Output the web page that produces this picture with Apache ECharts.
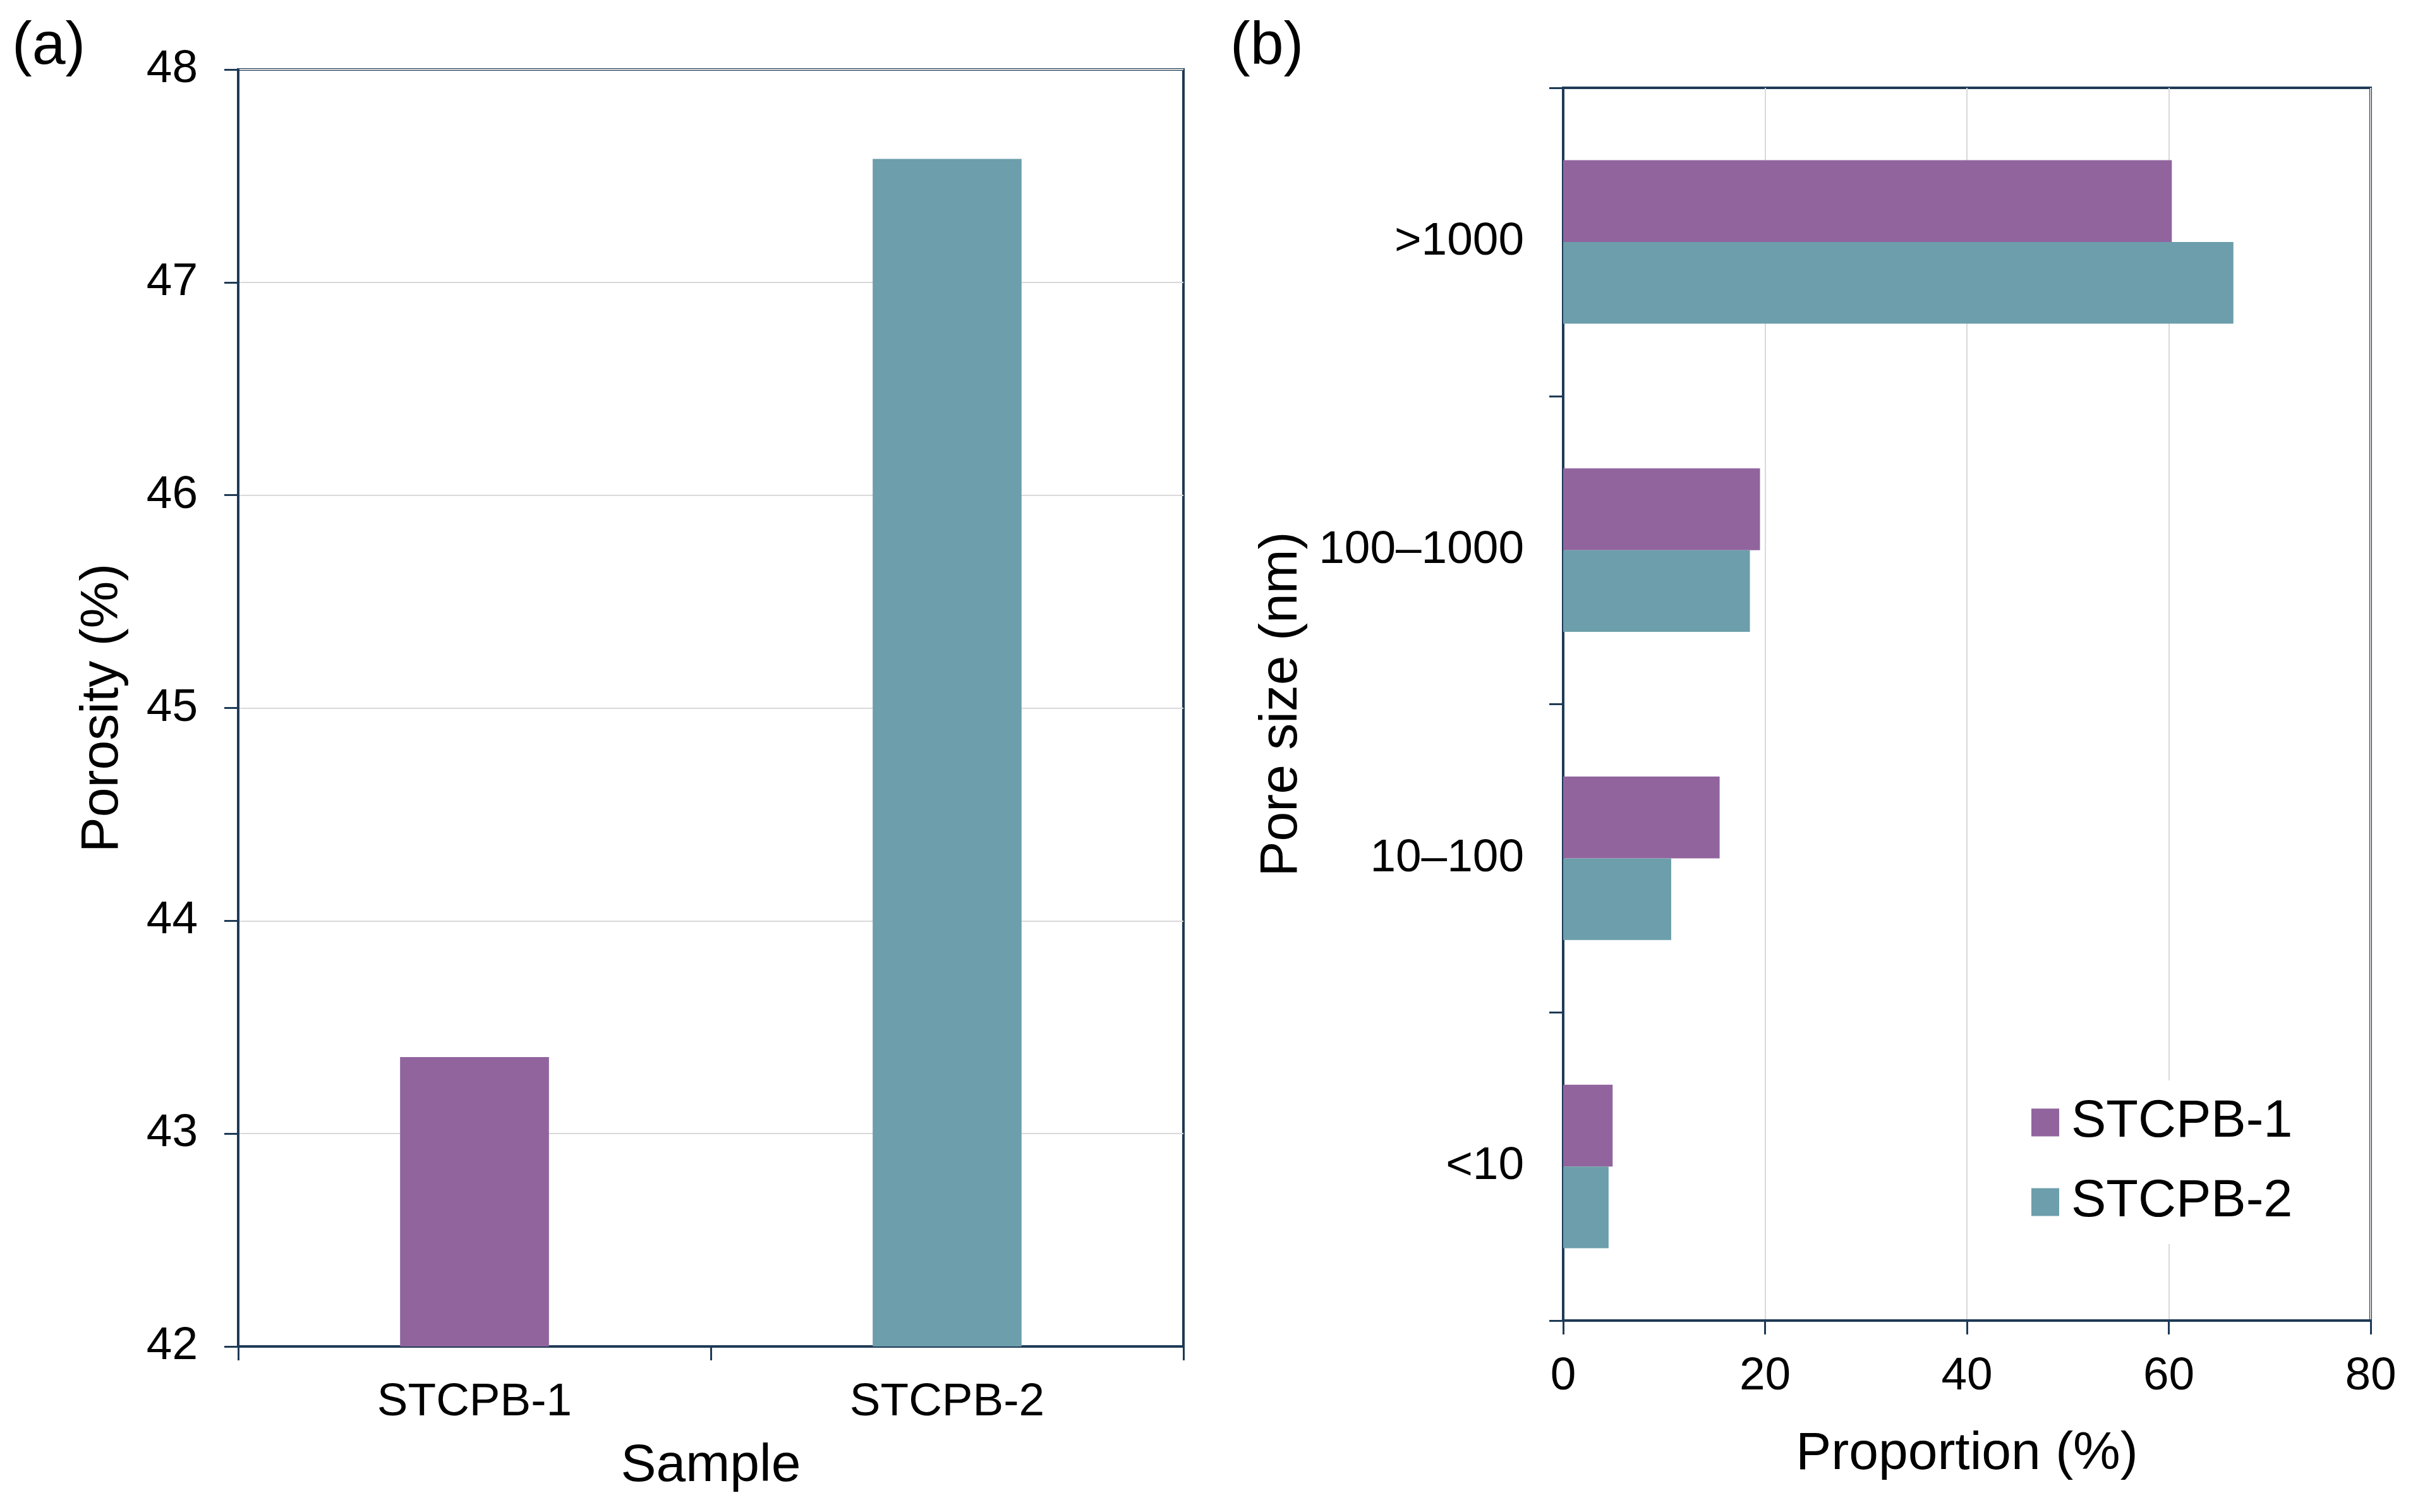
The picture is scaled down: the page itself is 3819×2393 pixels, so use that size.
<!doctype html>
<html>
<head>
<meta charset="utf-8">
<title>Porosity and pore size</title>
<script src="https://cdn.jsdelivr.net/npm/echarts@6/dist/echarts.min.js"></script>
<style type="text/css">
	html, body {
		margin: 0;
		padding: 0;
		background: #fff;
	}
	#chart {
		width: 3819px;
		height: 2393px;
	}
</style>
</head>
<body>
<div id="chart"></div>
<script type="text/javascript">
	// panel (a): porosity per sample
	var sampleNames = ['STCPB-1', 'STCPB-2'];
	var porosity = [43.36, 47.58];

	// panel (b): pore size distribution, listed top to bottom
	var poreSizes = ['>1000', '100–1000', '10–100', '<10'];
	var stcpb1 = [60.3, 19.5, 15.5, 4.9];
	var stcpb2 = [66.4, 18.5, 10.7, 4.5];

	var purple = '#91649e';
	var teal = '#6c9eab';
	var axisColor = '#1e3a56';
	var gridColor = '#d9d9d9';
	var font = "'Liberation Sans', Arial, sans-serif";

	var axisLine = { show: true, lineStyle: { color: axisColor, width: 4 } };
	var axisTick = { show: true, inside: false, length: 22, lineStyle: { color: axisColor, width: 3 } };
	var tickLabel = { color: '#000', fontSize: 73, fontFamily: font };
	var nameStyle = { color: '#000', fontSize: 84, fontFamily: font };

	var myChart = echarts.init(document.getElementById('chart'));
	var option = {
		backgroundColor: '#fff',
		animation: false,
		title: [
			{ text: '(a)', left: 14, top: 22, textStyle: { fontSize: 95, fontWeight: 'normal', fontFamily: font, color: '#000' } },
			{ text: '(b)', left: 1942, top: 22, textStyle: { fontSize: 95, fontWeight: 'normal', fontFamily: font, color: '#000' } }
		],
		grid: [
			{ left: 377, top: 110, width: 1496, height: 2021, show: true, borderColor: axisColor, borderWidth: 4, backgroundColor: 'transparent' },
			{ left: 2474, top: 139, width: 1278, height: 1951, show: true, borderColor: axisColor, borderWidth: 4, backgroundColor: 'transparent' }
		],
		legend: {
			data: ['STCPB-1', 'STCPB-2'],
			orient: 'vertical',
			left: 3190,
			top: 1710,
			padding: 25,
			backgroundColor: '#fff',
			itemWidth: 44,
			itemHeight: 44,
			itemGap: 43,
			icon: 'rect',
			textStyle: { color: '#000', fontSize: 83, lineHeight: 82, fontFamily: font, padding: [0, 0, 0, 14] }
		},
		xAxis: [
			{
				gridIndex: 0,
				type: 'category',
				data: sampleNames,
				name: 'Sample',
				nameLocation: 'middle',
				nameGap: 148,
				nameTextStyle: nameStyle,
				axisLine: axisLine,
				axisTick: axisTick,
				axisLabel: Object.assign({ margin: 52 }, tickLabel),
				splitLine: { show: false }
			},
			{
				gridIndex: 1,
				type: 'value',
				min: 0,
				max: 80,
				interval: 20,
				name: 'Proportion (%)',
				nameLocation: 'middle',
				nameGap: 170,
				nameTextStyle: nameStyle,
				axisLine: axisLine,
				axisTick: axisTick,
				axisLabel: Object.assign({ margin: 52 }, tickLabel),
				splitLine: { show: true, lineStyle: { color: gridColor, width: 2 } }
			}
		],
		yAxis: [
			{
				gridIndex: 0,
				type: 'value',
				min: 42,
				max: 48,
				interval: 1,
				name: 'Porosity (%)',
				nameLocation: 'middle',
				nameGap: 172,
				nameTextStyle: nameStyle,
				axisLine: axisLine,
				axisTick: axisTick,
				axisLabel: Object.assign({ margin: 64 }, tickLabel),
				splitLine: { show: true, lineStyle: { color: gridColor, width: 2 } }
			},
			{
				gridIndex: 1,
				type: 'category',
				inverse: true,
				data: poreSizes,
				name: 'Pore size (nm)',
				nameLocation: 'middle',
				nameGap: 403,
				nameTextStyle: nameStyle,
				axisLine: axisLine,
				axisTick: axisTick,
				axisLabel: Object.assign({ margin: 62 }, tickLabel),
				splitLine: { show: false }
			}
		],
		series: [
			{
				type: 'bar',
				xAxisIndex: 0,
				yAxisIndex: 0,
				barWidth: '31.5%',
				data: [
					{ value: porosity[0], itemStyle: { color: purple } },
					{ value: porosity[1], itemStyle: { color: teal } }
				]
			},
			{
				name: 'STCPB-1',
				type: 'bar',
				xAxisIndex: 1,
				yAxisIndex: 1,
				barWidth: '26.5%',
				barGap: '0%',
				itemStyle: { color: purple },
				data: stcpb1
			},
			{
				name: 'STCPB-2',
				type: 'bar',
				xAxisIndex: 1,
				yAxisIndex: 1,
				barWidth: '26.5%',
				barGap: '0%',
				itemStyle: { color: teal },
				data: stcpb2
			}
		]
	};
	myChart.setOption(option);
</script>
</body>
</html>
